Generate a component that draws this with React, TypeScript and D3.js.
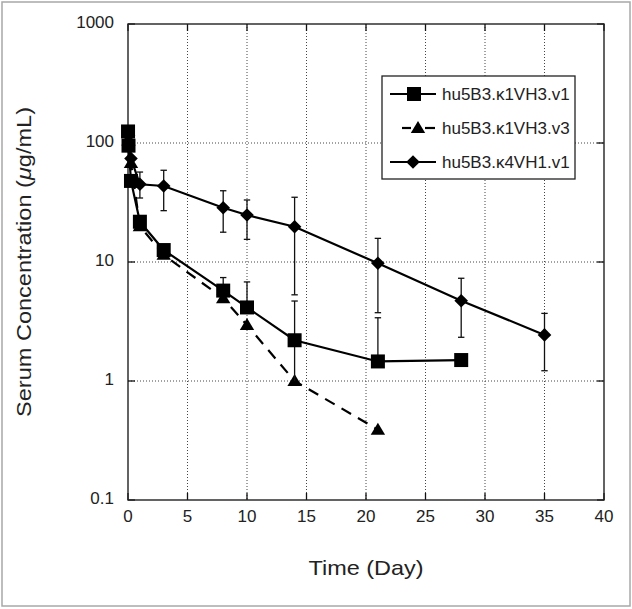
import React from "react";
import * as d3 from "d3";

// ---------- data ----------
const xTicks = [0, 5, 10, 15, 20, 25, 30, 35, 40];
const yTicks = [0.1, 1, 10, 100, 1000];
const yTickLabels = ["0.1", "1", "10", "100", "1000"];

const seriesNames = ["hu5B3.\u03BA1VH3.v1", "hu5B3.\u03BA1VH3.v3", "hu5B3.\u03BA4VH1.v1"];

// series 1: squares, solid
const sqTimes = [0.003, 0.042, 0.25, 1, 3, 8, 10, 14, 21, 28];
const sqValues = [125, 95, 48, 21.8, 12.6, 5.75, 4.15, 2.2, 1.46, 1.5];
const sqUpper: (number | null)[] = [null, null, null, null, null, 7.4, 6.8, 4.7, 3.4, null];
const sqLower: (number | null)[] = [null, null, null, null, null, null, null, 1.0, null, null];

// series 2: triangles, dashed
const triTimes = [0.042, 0.25, 1, 3, 8, 10, 14, 21];
const triValues = [105, 68, 20, 11.5, 4.95, 2.95, 1.0, 0.39];

// series 3: diamonds, solid
const dmTimes = [0.042, 0.25, 1, 3, 8, 10, 14, 21, 28, 35];
const dmValues = [115, 74, 45, 43.5, 28.6, 24.8, 19.8, 9.75, 4.73, 2.44];
const dmUpper: (number | null)[] = [null, null, 57, 59, 39.7, 33.2, 35, 15.8, 7.3, 3.7];
const dmLower: (number | null)[] = [null, null, 34.5, 27, 17.8, 15.5, 5.3, 3.75, 2.33, 1.22];

// ---------- layout ----------
const W = 632;
const H = 609;
const L = 128, R = 604, T = 24, B = 500;
const FONT = "'Liberation Sans', Arial, Helvetica, sans-serif";

export default function App() {
  const x = d3.scaleLinear().domain([0, 40]).range([L, R]);
  const y = d3.scaleLog().domain([0.1, 1000]).range([B, T]);

  const toPts = (ts: number[], vs: number[]) => ts.map((t, i) => [t, vs[i]] as [number, number]);
  const line = d3.line<[number, number]>().x((d) => x(d[0])).y((d) => y(d[1]));

  const sq = toPts(sqTimes, sqValues);
  const tri = toPts(triTimes, triValues);
  const dm = toPts(dmTimes, dmValues);

  const sqSize = 14;
  const dmR = 6.8;
  const triPath = (cx: number, cy: number, s = 1) =>
    `M${cx},${cy - 7 * s}L${cx + 7.2 * s},${cy + 5 * s}L${cx - 7.2 * s},${cy + 5 * s}Z`;
  const dmPath = (cx: number, cy: number, r = dmR) =>
    `M${cx},${cy - r}L${cx + r},${cy}L${cx},${cy + r}L${cx - r},${cy}Z`;

  const errBars = (ts: number[], vs: number[], up: (number | null)[], lo: (number | null)[], key: string, capLo = true) => {
    const out: React.ReactNode[] = [];
    ts.forEach((t, i) => {
      const cx = x(t);
      if (up[i] != null) {
        const yy = y(up[i] as number);
        out.push(<line key={`${key}u${i}`} x1={cx} x2={cx} y1={y(vs[i])} y2={yy} stroke="#111" strokeWidth={1.3} />);
        out.push(<line key={`${key}uc${i}`} x1={cx - 3.2} x2={cx + 3.2} y1={yy} y2={yy} stroke="#111" strokeWidth={1.3} />);
      }
      if (lo[i] != null) {
        const yy = y(lo[i] as number);
        out.push(<line key={`${key}l${i}`} x1={cx} x2={cx} y1={y(vs[i])} y2={yy} stroke="#111" strokeWidth={1.3} />);
        if (capLo)
          out.push(<line key={`${key}lc${i}`} x1={cx - 3.2} x2={cx + 3.2} y1={yy} y2={yy} stroke="#111" strokeWidth={1.3} />);
      }
    });
    return out;
  };

  const gridY = [1, 10, 100];
  const gridX = [5, 10, 15, 20, 25, 30, 35];
  const tickLen = 7;

  const legY = [94, 128, 162];

  return (
    <svg width={W} height={H} style={{ position: "absolute", left: 0, top: 0, background: "#fff" }} fontFamily={FONT}>
      <rect x={0} y={0} width={W} height={H} fill="#fff" />
      <rect x={2} y={2} width={W - 4} height={H - 5} fill="none" stroke="#a8a8a8" strokeWidth={1.5} />

      {/* grid */}
      {gridX.map((v) => (
        <line key={`gx${v}`} x1={x(v)} x2={x(v)} y1={T} y2={B} stroke="#444" strokeWidth={1} strokeDasharray="1 2" />
      ))}
      {gridY.map((v) => (
        <line key={`gy${v}`} x1={L} x2={R} y1={y(v)} y2={y(v)} stroke="#444" strokeWidth={1} strokeDasharray="1 2" />
      ))}

      {/* ticks */}
      {xTicks.map((v) => (
        <g key={`xt${v}`}>
          <line x1={x(v)} x2={x(v)} y1={B} y2={B - tickLen} stroke="#111" strokeWidth={1.3} />
          <line x1={x(v)} x2={x(v)} y1={T} y2={T + tickLen} stroke="#111" strokeWidth={1.3} />
          <text x={x(v)} y={522} textAnchor="middle" fontSize={17} fill="#222">{v}</text>
        </g>
      ))}
      {yTicks.map((v, i) => (
        <g key={`yt${v}`}>
          <line x1={L} x2={L + tickLen} y1={y(v)} y2={y(v)} stroke="#111" strokeWidth={1.3} />
          <line x1={R} x2={R - tickLen} y1={y(v)} y2={y(v)} stroke="#111" strokeWidth={1.3} />
          <text x={114} y={y(v) + 4} textAnchor="end" fontSize={17} fill="#222">{yTickLabels[i]}</text>
        </g>
      ))}

      {/* frame */}
      <rect x={L} y={T} width={R - L} height={B - T} fill="none" stroke="#222" strokeWidth={1.4} />

      {/* axis titles */}
      <text x={366} y={575} textAnchor="middle" fontSize={21} fill="#222" textLength={115} lengthAdjust="spacingAndGlyphs">Time (Day)</text>
      <text
        transform={`translate(30.5,${(T + B) / 2}) rotate(-90)`}
        textAnchor="middle"
        fontSize={20.5}
        fill="#222"
        textLength={310}
        lengthAdjust="spacingAndGlyphs"
      >
        Serum Concentration (<tspan fontStyle="italic">μ</tspan>g/mL)
      </text>

      {/* diamonds series */}
      <path d={line(dm) || ""} fill="none" stroke="#000" strokeWidth={2.2} />
      {errBars(dmTimes, dmValues, dmUpper, dmLower, "dm")}
      {dm.map((d, i) => <path key={`dm${i}`} d={dmPath(x(d[0]), y(d[1]))} fill="#000" />)}

      {/* triangles series */}
      <path d={line(tri) || ""} fill="none" stroke="#000" strokeWidth={2.2} strokeDasharray="11 8" />
      {tri.map((d, i) => <path key={`tr${i}`} d={triPath(x(d[0]), y(d[1]))} fill="#000" />)}

      {/* squares series */}
      <path d={line(sq) || ""} fill="none" stroke="#000" strokeWidth={2.2} />
      {errBars(sqTimes, sqValues, sqUpper, sqLower, "sq", false)}
      {sq.map((d, i) => (
        <rect key={`sq${i}`} x={x(d[0]) - sqSize / 2} y={y(d[1]) - sqSize / 2} width={sqSize} height={sqSize} fill="#000" />
      ))}

      {/* legend */}
      <rect x={382} y={76} width={193} height={103} fill="#fff" stroke="#222" strokeWidth={1.3} />
      <line x1={390} x2={436} y1={legY[0]} y2={legY[0]} stroke="#000" strokeWidth={2.2} />
      <rect x={414 - sqSize / 2} y={legY[0] - sqSize / 2} width={sqSize} height={sqSize} fill="#000" />
      <line x1={402} x2={411} y1={legY[1]} y2={legY[1]} stroke="#000" strokeWidth={2.2} />
      <line x1={425} x2={435} y1={legY[1]} y2={legY[1]} stroke="#000" strokeWidth={2.2} />
      <path d={triPath(418, legY[1])} fill="#000" />
      <line x1={390} x2={436} y1={legY[2]} y2={legY[2]} stroke="#000" strokeWidth={2.2} />
      <path d={dmPath(413, legY[2])} fill="#000" />
      {seriesNames.map((n, i) => (
        <text key={n} x={442} y={legY[i] + 6} fontSize={17} fill="#222">{n}</text>
      ))}
    </svg>
  );
}
